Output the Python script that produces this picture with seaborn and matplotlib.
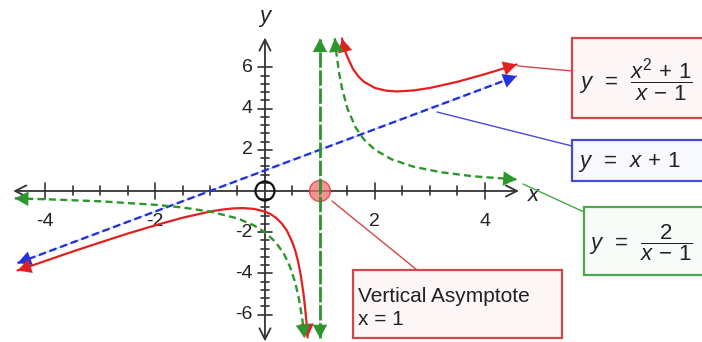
import matplotlib
matplotlib.use('Agg')
import matplotlib.pyplot as plt
import numpy as np
import seaborn as sns
from matplotlib.patches import Rectangle, Ellipse

# ---- data ----
# y = (x^2 + 1) / (x - 1), left and right branches
red_left_x = [-4.5, -4.0, -3.5, -3.0, -2.5, -2.0, -1.5, -1.0, -0.8, -0.6, -0.4, -0.2, 0.0,
              0.1, 0.2, 0.3, 0.4, 0.5, 0.55, 0.6, 0.65, 0.7, 0.73, 0.755, 0.775]
red_left_y = [-3.86, -3.40, -2.94, -2.50, -2.07, -1.67, -1.30, -1.00, -0.91, -0.85, -0.83, -0.87, -1.00,
              -1.12, -1.30, -1.56, -1.93, -2.50, -2.89, -3.40, -4.07, -4.97, -5.68, -6.37, -7.11]
red_right_x = [1.4, 1.45, 1.5, 1.6, 1.7, 1.8, 2.0, 2.2, 2.4, 2.7, 3.0, 3.5, 4.0, 4.58]
red_right_y = [7.40, 6.85, 6.50, 5.93, 5.56, 5.30, 5.00, 4.87, 4.83, 4.88, 5.00, 5.30, 5.67, 6.14]

# y = x + 1 (slant asymptote)
blue_x = [-4.5, 4.58]
blue_y = [-3.5, 5.58]

# y = 2 / (x - 1)
green_left_x = [-4.55, -4.0, -3.0, -2.0, -1.5, -1.0, -0.5, -0.2, 0.0, 0.2, 0.35, 0.45,
                0.55, 0.62, 0.68, 0.72]
green_left_y = [-0.36, -0.40, -0.50, -0.67, -0.80, -1.00, -1.33, -1.67, -2.00, -2.50, -3.08, -3.64,
                -4.44, -5.26, -6.25, -7.14]
green_right_x = [1.27, 1.3, 1.35, 1.4, 1.5, 1.65, 1.8, 2.0, 2.3, 2.7, 3.2, 3.8, 4.58]
green_right_y = [7.41, 6.67, 5.71, 5.00, 4.00, 3.08, 2.50, 2.00, 1.54, 1.18, 0.91, 0.71, 0.56]

# vertical asymptote x = 1
vert_x = [1.0, 1.0]
vert_y = [-7.15, 7.4]

x_tick_labels = ['-4', '-2', '2', '4']
x_tick_values = [-4, -2, 2, 4]
y_tick_labels = ['6', '4', '2', '-2', '-4', '-6']
y_tick_values = [6, 4, 2, -2, -4, -6]

RED = '#e3201f'
BLUE = '#2233dd'
GREEN = '#2c962c'
AXC = '#333333'
TXT = '#222222'

sns.set_style('white')
plt.rcParams['font.family'] = ['Liberation Sans', 'DejaVu Sans']
plt.rcParams['mathtext.fontset'] = 'custom'
plt.rcParams['mathtext.rm'] = 'Liberation Sans'
plt.rcParams['mathtext.it'] = 'Liberation Sans:italic'

fig = plt.figure(figsize=(7.02, 3.42), dpi=100)
ax = fig.add_axes([0, 0, 1, 1])
ax.set_xlim(-4.82, 7.95)
ax.set_ylim(-7.33, 9.27)
ax.axis('off')

# px per data unit (for sizing ticks)
pxx = 702 / (7.95 + 4.82)
pxy = 342 / (9.27 + 7.33)

# ---- axes with open arrowheads ----
ax.annotate('', xy=(-4.58, 0), xytext=(4.62, 0),
            arrowprops=dict(arrowstyle='<->', color=AXC, lw=1.3, mutation_scale=20,
                            shrinkA=0, shrinkB=0), zorder=2)
ax.annotate('', xy=(0, -7.3), xytext=(0, 7.45),
            arrowprops=dict(arrowstyle='<->', color=AXC, lw=1.3, mutation_scale=20,
                            shrinkA=0, shrinkB=0), zorder=2)

for t in np.arange(-4, 4.01, 0.5):
    if abs(t) < 1e-9:
        continue
    h = (8 if abs(t % 2) < 1e-9 else 4.5) / pxy
    ax.plot([t, t], [-h, h], color=AXC, lw=1.2, zorder=2)
for t in np.arange(-6, 6.01, 0.4):
    if abs(t) < 1e-9:
        continue
    major = abs(round(t) - t) < 1e-6 and round(t) % 2 == 0
    w = (7 if major else 4) / pxx
    ax.plot([-w, w], [t, t], color=AXC, lw=1.2, zorder=2)

for v, lab in zip(x_tick_values, x_tick_labels):
    ax.text(v, -1.5, lab, ha='center', va='center', fontsize=14, color=TXT)
for v, lab in zip(y_tick_values, y_tick_labels):
    ax.text(-0.22, v, lab, ha='right', va='center', fontsize=14, color=TXT)

ax.text(4.88, -0.2, 'x', ha='center', va='center', fontsize=16, style='italic', color=TXT)
ax.text(0.0, 8.45, 'y', ha='center', va='center', fontsize=16, style='italic', color=TXT)

# origin circle
ax.add_patch(Ellipse((0, 0), 19 / pxx, 19 / pxy, fill=False, ec='#111111', lw=1.6, zorder=3))
# red marker at (1, 0)
ax.add_patch(Ellipse((1, 0), 21 / pxx, 21 / pxy, fc='#f07070', ec='#e03030', lw=1.0,
                     alpha=0.75, zorder=3))

# ---- curves ----
def draw(xs, ys, color, ls, lw, tips, z=4):
    sns.lineplot(x=xs, y=ys, color=color, linestyle=ls, linewidth=lw, sort=False,
                 estimator=None, ax=ax, zorder=z)
    for (i, j) in tips:
        ax.annotate('', xy=(xs[i], ys[i]), xytext=(xs[j], ys[j]),
                    arrowprops=dict(arrowstyle='-|>,head_length=0.6,head_width=0.32',
                                    color=color, lw=0.1, mutation_scale=16,
                                    shrinkA=0, shrinkB=0), zorder=z + 1)

draw(blue_x, blue_y, BLUE, (0, (3.2, 1.6)), 1.7, [(0, 1), (1, 0)])
draw(red_left_x, red_left_y, RED, '-', 1.6, [(0, 1), (-1, -2)])
draw(red_right_x, red_right_y, RED, '-', 1.6, [(0, 1), (-1, -2)])
draw(green_left_x, green_left_y, GREEN, (0, (3.0, 1.8)), 1.7, [(0, 1), (-1, -2)])
draw(green_right_x, green_right_y, GREEN, (0, (3.0, 1.8)), 1.7, [(0, 1), (-1, -2)])
draw(vert_x, vert_y, GREEN, (0, (5.5, 1.0)), 2.0, [(0, 1), (1, 0)], z=5)

# ---- callout boxes ----
def px(xp, yp):
    return (xp / 702, 1 - yp / 342)

def box(x0, y0, x1, y1, ec, fc):
    ax.add_patch(Rectangle(px(x0, y1), (x1 - x0) / 702, (y1 - y0) / 342,
                           transform=ax.transAxes, ec=ec, fc=fc, lw=1.6, zorder=6,
                           clip_on=False))

def leader(p0, p1, color):
    a, b = px(*p0), px(*p1)
    ax.plot([a[0], b[0]], [a[1], b[1]], color=color, lw=1.0, transform=ax.transAxes, zorder=6)

leader((518, 66), (572, 71), '#d04848')
box(572, 38, 712, 118, '#d04848', '#fdf6f6')
ax.text(*px(579, 80), r'$y\ \,=\ \,\dfrac{x^2\,+\,1}{x\,-\,1}$', transform=ax.transAxes,
        ha='left', va='center', fontsize=16, color=TXT, zorder=7)

leader((437, 112), (572, 146), '#4a4ad0')
box(572, 140, 712, 181, '#4a4ad0', '#f8f8ff')
ax.text(*px(578, 162), r'$y\ \,=\ \,x\,+\,1$', transform=ax.transAxes,
        ha='left', va='center', fontsize=16, color=TXT, zorder=7)

leader((523, 184), (584, 212), '#4aa84a')
box(584, 207, 712, 275, '#4aa84a', '#f8fcf8')
ax.text(*px(589, 243), r'$y\ \,=\ \,\dfrac{2}{x\,-\,1}$', transform=ax.transAxes,
        ha='left', va='center', fontsize=16, color=TXT, zorder=7)

leader((332, 201), (417, 270), '#d04848')
box(353, 270, 562, 338, '#d04848', '#fdf6f6')
ax.text(*px(358, 308), 'Vertical Asymptote\nx = 1', transform=ax.transAxes,
        ha='left', va='center', fontsize=15, color=TXT, linespacing=1.3, zorder=7)

fig.savefig('out.png', dpi=100)
